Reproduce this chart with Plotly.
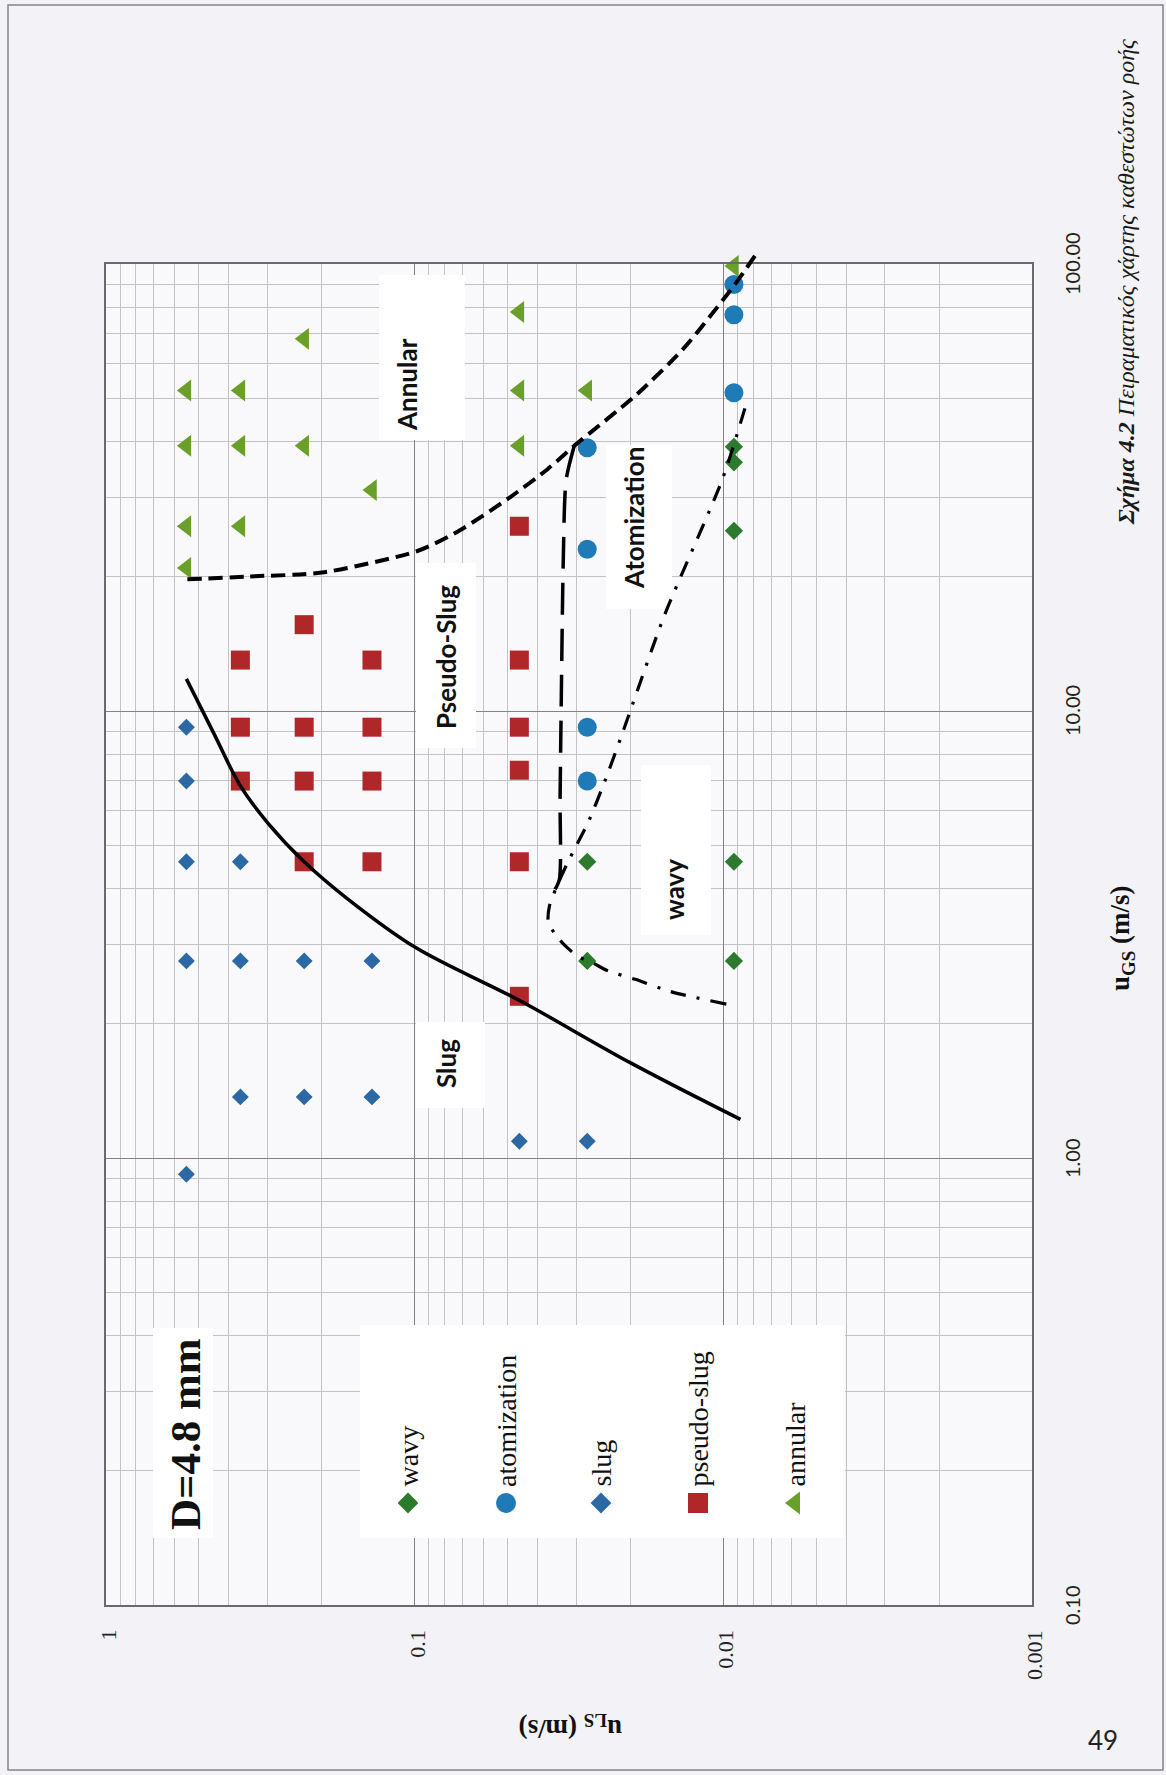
import numpy as np
import plotly.graph_objects as go

# ---------------- observed flow patterns: u_GS and u_LS (m/s) ----------------
wavy_ugs = [2.76, 4.6, 2.76, 4.6, 25.3, 36.0, 39.0]
wavy_uls = [0.0276, 0.0276, 0.00924, 0.00924, 0.00924, 0.00924, 0.00924]

atomization_ugs = [6.97, 9.2, 23.0, 38.8, 51.5, 77.0, 90.0]
atomization_uls = [0.0276, 0.0276, 0.0276, 0.0276, 0.00924, 0.00924, 0.00924]

slug_ugs = [0.92, 1.09, 1.09, 1.37, 1.37, 1.37, 2.76, 2.76, 2.76, 2.76, 4.6, 4.6, 6.97, 9.2]
slug_uls = [0.549, 0.0458, 0.0276, 0.367, 0.228, 0.1375, 0.549, 0.367, 0.228, 0.1375,
            0.549, 0.367, 0.549, 0.549]

pseudo_slug_ugs = [2.3, 4.6, 4.6, 4.6, 6.97, 6.97, 6.97, 7.37, 9.2, 9.2, 9.2, 9.2,
                   13.0, 13.0, 13.0, 15.6, 25.9]
pseudo_slug_uls = [0.0458, 0.228, 0.1375, 0.0458, 0.367, 0.228, 0.1375, 0.0458,
                   0.367, 0.228, 0.1375, 0.0458, 0.367, 0.1375, 0.0458, 0.228, 0.0458]

annular_ugs = [20.9, 25.9, 25.9, 31.2, 39.2, 39.2, 39.2, 39.2, 52.1, 52.1, 52.1, 52.1,
               68.0, 78.1, 99.0]
annular_uls = [0.549, 0.549, 0.367, 0.1375, 0.549, 0.367, 0.228, 0.0458, 0.549, 0.367,
               0.0458, 0.0276, 0.228, 0.0458, 0.00924]

# ---------------- regime transition lines ----------------
slug_line_ugs = [11.8, 8.9, 6.8, 5.6, 4.6, 3.8, 2.96, 2.25, 1.63, 1.22]
slug_line_uls = [0.549, 0.447, 0.367, 0.298, 0.228, 0.165, 0.0996, 0.0457, 0.0199, 0.0088]

annular_line_ugs = [19.7, 20.0, 20.4, 22.8, 25.3, 30.1, 34.7, 39.2, 51.2, 64.9, 89.8, 104.7]
annular_line_uls = [0.545, 0.344, 0.200, 0.098, 0.0718, 0.049, 0.0372, 0.0304, 0.019,
                    0.0134, 0.0092, 0.00787]

atomization_line_ugs = [39.2, 32.9, 21.8, 10.6, 6.32, 4.19, 3.92]
atomization_line_uls = [0.0304, 0.0323, 0.033, 0.0335, 0.0338, 0.034, 0.0356]

wavy_line_ugs = [2.21, 2.35, 2.51, 2.63, 2.73, 2.82, 2.97, 3.12, 3.37, 3.66, 4.02, 4.57,
                 5.64, 6.97, 8.86, 16.4, 33.0, 49.6]
wavy_line_uls = [0.00978, 0.0146, 0.0193, 0.0239, 0.0264, 0.0295, 0.0323, 0.0345, 0.0369,
                 0.0366, 0.0348, 0.0320, 0.0274, 0.0242, 0.0213, 0.0155, 0.01007, 0.00836]

# ---------------- axis ticks and labels ----------------
uls_ticks = [1, 0.1, 0.01, 0.001]
uls_ticktext = ["1", "0.1", "0.01", "0.001"]
ugs_ticks = [0.1, 1, 10, 100]
ugs_ticktext = ["0.10", "1.00", "10.00", "100.00"]

legend_names = ["wavy", "atomization", "slug", "pseudo-slug", "annular"]

# ---------------- page geometry (px) ----------------
# The chart sits on a page turned a quarter turn: u_LS runs horizontally
# (decreasing to the right), u_GS runs upward.
W, H = 1166, 1775
PL, PR, PT, PB = 106, 1032, 264, 1605      # plot frame
EXTRA = 20                                  # head-room above frame for boundary lines
PAPER_H = PB - PT + EXTRA
DEC_Y = (PB - PT) / 3.0


def xp(px):
    return (px - PL) / (PR - PL)


def yp(py):
    return (PB - py) / PAPER_H


def uls_at(px):
    return 10 ** (-3.0 * (px - PL) / (PR - PL))


def ugs_at(py):
    return 10 ** (2.0 - 3.0 * (py - PT) / (PB - PT))


C_WAVY = "#2B7A2E"
C_ATOM = "#1F7AB8"
C_SLUG = "#2C68A3"
C_PSEUDO = "#B0272A"
C_ANN = "#6A9F2A"

fig = go.Figure()

series = [
    (wavy_uls, wavy_ugs, "diamond", 14, C_WAVY),
    (atomization_uls, atomization_ugs, "circle", 19, C_ATOM),
    (slug_uls, slug_ugs, "diamond", 13, C_SLUG),
    (pseudo_slug_uls, pseudo_slug_ugs, "square", 19, C_PSEUDO),
    (annular_uls, annular_ugs, "triangle-left", 19, C_ANN),
]
for xs, ys, sym, sz, col in series:
    fig.add_trace(go.Scatter(
        x=xs, y=ys, mode="markers", xaxis="x", yaxis="y", cliponaxis=False,
        marker=dict(symbol=sym, size=sz, color=col, opacity=1, line=dict(width=0)),
        showlegend=False, hoverinfo="skip"))

# key symbols, placed at page positions inside the white key box
legend_x = [408, 506, 601, 698, 795]
legend_y = 1503
fig.add_trace(go.Scatter(
    x=[uls_at(v) for v in legend_x], y=[ugs_at(legend_y)] * 5,
    mode="markers", xaxis="x", yaxis="y", cliponaxis=False,
    marker=dict(symbol=["diamond", "circle", "diamond", "square", "triangle-left"],
                size=[16, 20, 16, 20, 20], opacity=1,
                color=[C_WAVY, C_ATOM, C_SLUG, C_PSEUDO, C_ANN], line=dict(width=0)),
    showlegend=False, hoverinfo="skip"))

lines = [
    (slug_line_uls, slug_line_ugs, "solid", 3.5, 1.0),
    (annular_line_uls, annular_line_ugs, "14px,7px", 4, 0.7),
    (atomization_line_uls, atomization_line_ugs, "32px,14px", 3.5, 0.7),
    (wavy_line_uls, wavy_line_ugs, "16px,11px,3px,11px", 3.2, 0.7),
]
for xs, ys, dash, w, sm in lines:
    fig.add_trace(go.Scatter(
        x=xs, y=ys, mode="lines", xaxis="x2", yaxis="y2",
        line=dict(color="black", width=w, dash=dash, shape="spline", smoothing=sm),
        showlegend=False, hoverinfo="skip"))

grid_major = "#828282"
grid_minor = "#c3c3c3"
frame = "#6a6a6a"

fig.update_layout(
    width=W, height=H,
    margin=dict(l=PL, r=W - PR, t=PT - EXTRA, b=H - PB, pad=0, autoexpand=False),
    paper_bgcolor="#f3f2f6",
    plot_bgcolor="rgba(0,0,0,0)",
    showlegend=False,
    xaxis=dict(type="log", range=[0, -3], domain=[0, 1], anchor="y",
               dtick=1, showgrid=True, gridcolor=grid_major, gridwidth=1.3,
               minor=dict(dtick="D1", showgrid=True, gridcolor=grid_minor, gridwidth=1),
               showticklabels=False, ticks="", zeroline=False,
               showline=True, linecolor=frame, linewidth=1.5, mirror=True),
    yaxis=dict(type="log", range=[-1, 2], domain=[0, (PB - PT) / PAPER_H], anchor="x",
               dtick=1, showgrid=True, gridcolor=grid_major, gridwidth=1.3,
               minor=dict(dtick="D1", showgrid=True, gridcolor=grid_minor, gridwidth=1),
               showticklabels=False, ticks="", zeroline=False,
               showline=True, linecolor=frame, linewidth=1.5, mirror=True),
    xaxis2=dict(type="log", range=[0, -3], domain=[0, 1], anchor="y2", visible=False),
    yaxis2=dict(type="log", range=[-1, 2 + EXTRA / DEC_Y], domain=[0, 1],
                anchor="x2", visible=False),
)

shapes = []
# page frame and plot area tint
shapes.append(dict(type="rect", xref="paper", yref="paper", layer="below",
                   x0=xp(8), x1=xp(1163), y0=yp(1770), y1=yp(5),
                   line=dict(color="#858585", width=1.5), fillcolor="rgba(0,0,0,0)"))
shapes.append(dict(type="rect", xref="paper", yref="paper", layer="below",
                   x0=0, x1=1, y0=0, y1=yp(PT),
                   line=dict(width=0), fillcolor="#f9f9fb"))
# white backing boxes for labels and key
boxes = [
    (379, 465, 275, 440),     # Annular
    (416, 476, 563, 748),     # Pseudo-Slug
    (416, 485, 1022, 1108),   # Slug
    (606, 672, 445, 609),     # Atomization
    (641, 711, 765, 935),     # wavy
    (153, 213, 1328, 1538),   # D=4.8 mm
    (360, 845, 1325, 1538),   # key
]
for x0, x1, y0, y1 in boxes:
    shapes.append(dict(type="rect", xref="x", yref="y", layer="between",
                       x0=uls_at(x0), x1=uls_at(x1), y0=ugs_at(y1), y1=ugs_at(y0),
                       line=dict(width=0), fillcolor="#ffffff"))
fig.update_layout(shapes=shapes)

ann = []
region_font = dict(family="Lato", size=26, color="#111111")
for txt, cx, cy in [("Annular", 407, 385), ("Pseudo-Slug", 446, 657),
                    ("Slug", 446, 1064), ("Atomization", 634, 518), ("wavy", 674, 890)]:
    ann.append(dict(text="<b>%s</b>" % txt, x=xp(cx), y=yp(cy), xref="paper", yref="paper",
                    xanchor="center", yanchor="middle", textangle=-90, showarrow=False,
                    font=region_font))

ann.append(dict(text="<b>D=4.8 mm</b>", x=xp(185), y=yp(1434), xref="paper", yref="paper",
                xanchor="center", yanchor="middle", textangle=-90, showarrow=False,
                font=dict(family="Liberation Serif", size=43, color="#111111")))

for name, kx in zip(legend_names, legend_x):
    ann.append(dict(text=name, x=xp(kx), y=yp(1489), xref="paper", yref="paper",
                    xanchor="center", yanchor="bottom", textangle=-90, showarrow=False,
                    font=dict(family="Liberation Serif", size=28, color="#111111")))

for v, t in zip(uls_ticks, uls_ticktext):
    ann.append(dict(text=t, x=np.log10(v), xref="x", y=yp(1628), yref="paper",
                    xshift=2, xanchor="center", yanchor="top", textangle=-90,
                    showarrow=False,
                    font=dict(family="Liberation Serif", size=22, color="#222222")))

for v, t in zip(ugs_ticks, ugs_ticktext):
    ann.append(dict(text=t, y=np.log10(v), yref="y", x=xp(1072), xref="paper",
                    xanchor="center", yanchor="middle", textangle=-90, showarrow=False,
                    font=dict(family="Lato", size=20, color="#222222")))

ann.append(dict(text="<b>u<sub>GS</sub> (m/s)</b>", x=xp(1122), y=yp(939),
                xref="paper", yref="paper", xanchor="center", yanchor="middle",
                textangle=-90, showarrow=False,
                font=dict(family="Liberation Serif", size=27, color="#111111")))
ann.append(dict(text="<b>u<sub>LS</sub> (m/s)</b>", x=xp(571), y=yp(1727),
                xref="paper", yref="paper", xanchor="center", yanchor="middle",
                textangle=180, showarrow=False,
                font=dict(family="Liberation Serif", size=27, color="#111111")))

ann.append(dict(text="<b><i>Σχήμα 4.2</i></b> <i>Πειραματικός χάρτης καθεστώτων ροής</i>",
                x=xp(1126), y=yp(282), xref="paper", yref="paper",
                xanchor="center", yanchor="middle", textangle=-90, showarrow=False,
                font=dict(family="Liberation Serif", size=24, color="#1a1a1a")))

ann.append(dict(text="49", x=xp(1103), y=yp(1740), xref="paper", yref="paper",
                xanchor="center", yanchor="middle", showarrow=False,
                font=dict(family="Lato", size=26, color="#222222")))

fig.update_layout(annotations=ann)

fig.write_html("out.html")
